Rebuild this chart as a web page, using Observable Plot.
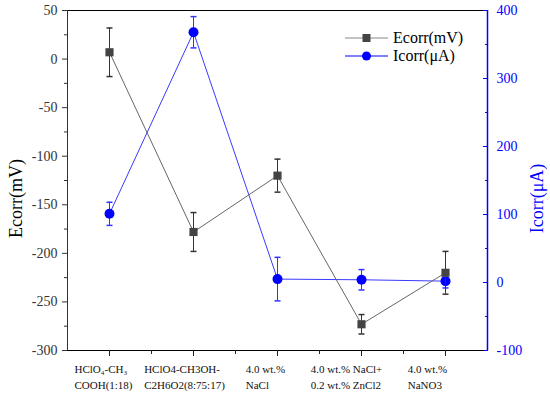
<!DOCTYPE html>
<html><head><meta charset="utf-8">
<script src="https://cdn.jsdelivr.net/npm/d3@7"></script>
<script src="https://cdn.jsdelivr.net/npm/@observablehq/plot@0.6"></script>
<style>
body{margin:0;background:#fff;}
#wrap{position:relative;width:550px;height:395px;background:#fff;}
#wrap svg text{font-family:"Liberation Serif",serif !important;}
.leg{position:absolute;left:345px;display:flex;align-items:center;font:16px "Liberation Serif",serif;color:#000;height:18px;}
.leg svg{margin-right:4px;}
</style></head><body><div id="wrap"></div>
<script>
const categories = ["HClO₄-CH₃\nCOOH(1:18)", "HClO4-CH3OH-\nC2H6O2(8:75:17)", "4.0 wt.%\nNaCl", "4.0 wt.% NaCl+\n0.2 wt.% ZnCl2", "4.0 wt.%\nNaNO3"];
const ecorr = [7, -178, -120, -273, -220];
const ecorrErr = [25, 20, 17, 10, 22];
const icorr = [101, 368, 5, 4, 2];
const icorrErr = [17, 23, 32, 15, 10];
const ecorrTicks = [-300, -250, -200, -150, -100, -50, 0, 50];
const icorrTicks = [-100, 0, 100, 200, 300, 400];
const seriesNames = ["Ecorr(mV)", "Icorr(μA)"];

const eDomain = [-300, 50], iDomain = [-100, 400];
const toE = v => eDomain[0] + (v - iDomain[0]) * (eDomain[1] - eDomain[0]) / (iDomain[1] - iDomain[0]);
const fromE = e => iDomain[0] + (e - eDomain[0]) * (iDomain[1] - iDomain[0]) / (eDomain[1] - eDomain[0]);
const idx = d3.range(categories.length);
const X = i => i + 1;
const cap = {draw(ctx, size) { const r = Math.sqrt(size / Math.PI); ctx.moveTo(-r, 0); ctx.lineTo(r, 0); }};

const cvs = document.createElement("canvas").getContext("2d");
cvs.font = "11px 'Liberation Serif'";
const labelMarks = idx.map(i => {
  const w = d3.max(categories[i].split("\n"), s => cvs.measureText(s).width);
  return Plot.text([i], {x: X, text: d => categories[d], frameAnchor: "bottom", textAnchor: "start", lineAnchor: "top",
    dy: 11, dx: -w / 2 - 6 - 3 * i, fontSize: 11, lineHeight: 1.45, fill: "#111"});
});

const blue = "#0000ff";
const chart = Plot.plot({
  width: 550, height: 395,
  marginLeft: 67, marginRight: 63, marginTop: 10, marginBottom: 45,
  style: {fontFamily: "Liberation Serif", fontSize: "14px", background: "#fff"},
  x: {domain: [0.5, 5.5]},
  y: {domain: eDomain},
  marks: [
    Plot.ruleY([eDomain[1]], {stroke: "#000"}),
    Plot.ruleY([eDomain[0]], {stroke: "#000"}),
    Plot.ruleX([0.5], {stroke: "#333"}),
    Plot.ruleX([5.5], {stroke: blue, strokeWidth: 1.5}),
    Plot.axisY({anchor: "left", ticks: ecorrTicks, tickFormat: d => String(d), tickSize: 5, tickPadding: 5, color: "#333", fontSize: 14, label: null}),
    Plot.axisY({anchor: "left", ticks: d3.range(-275, 50, 50), tickSize: 3, tickFormat: () => "", color: "#333", label: null}),
    Plot.axisY({anchor: "right", ticks: icorrTicks.map(toE), tickFormat: e => String(Math.round(fromE(e))), tickSize: -5, tickPadding: 14, color: blue, fontSize: 14, label: null}),
    Plot.axisY({anchor: "right", ticks: d3.range(-50, 400, 100).map(toE), tickFormat: () => "", tickSize: -3, tickPadding: 6, color: blue, label: null}),
    Plot.axisX({ticks: [1, 2, 3, 4, 5], tickSize: 6, tickFormat: () => "", label: null, color: "#222"}),
    Plot.axisX({ticks: [1.5, 2.5, 3.5, 4.5], tickSize: 4, tickFormat: () => "", label: null, color: "#222"}),
    ...labelMarks,
    Plot.text([seriesNames[0]], {frameAnchor: "left", textAnchor: "middle", lineAnchor: "middle", rotate: -90, dx: -51, dy: 18, fontSize: 18, fill: "#000"}),
    Plot.text([seriesNames[1]], {frameAnchor: "right", textAnchor: "middle", lineAnchor: "middle", rotate: -90, dx: 50, dy: 18, fontSize: 18, fill: blue}),
    // Icorr
    Plot.line(idx, {x: X, y: i => toE(icorr[i]), stroke: "#3a3aff", strokeWidth: 1}),
    Plot.ruleX(idx, {x: X, y1: i => toE(icorr[i] - icorrErr[i]), y2: i => toE(icorr[i] + icorrErr[i]), stroke: "#3333ff"}),
    Plot.dot(idx, {x: X, y: i => toE(icorr[i] - icorrErr[i]), symbol: cap, r: 3, stroke: "#3333ff"}),
    Plot.dot(idx, {x: X, y: i => toE(icorr[i] + icorrErr[i]), symbol: cap, r: 3, stroke: "#3333ff"}),
    Plot.dot(idx, {x: X, y: i => toE(icorr[i]), r: 5, fill: blue, stroke: "none"}),
    // Ecorr
    Plot.line(idx, {x: X, y: i => ecorr[i], stroke: "#666", strokeWidth: 1}),
    Plot.ruleX(idx, {x: X, y1: i => ecorr[i] - ecorrErr[i], y2: i => ecorr[i] + ecorrErr[i], stroke: "#333"}),
    Plot.dot(idx, {x: X, y: i => ecorr[i] - ecorrErr[i], symbol: cap, r: 3, stroke: "#333"}),
    Plot.dot(idx, {x: X, y: i => ecorr[i] + ecorrErr[i], symbol: cap, r: 3, stroke: "#333"}),
    Plot.dot(idx, {x: X, y: i => ecorr[i], symbol: "square", r: 4.6, fill: "#444", stroke: "none"})
  ]
});
const wrap = document.getElementById("wrap");
wrap.appendChild(chart);
const legendItems = [
  {name: seriesNames[0], line: "#888", fill: "#444", shape: "square", top: 29},
  {name: seriesNames[1], line: "#0000ff", fill: "#0000ff", shape: "circle", top: 47}
];
for (const it of legendItems) {
  const d = document.createElement("div");
  d.className = "leg";
  d.style.top = it.top + "px";
  const marker = it.shape === "square"
    ? `<rect x="17.5" y="5" width="8" height="8" fill="${it.fill}"/>`
    : `<circle cx="21.5" cy="9" r="4.5" fill="${it.fill}"/>`;
  d.innerHTML = `<svg width="44" height="18"><line x1="0" x2="43" y1="9" y2="9" stroke="${it.line}" stroke-width="1.2"/>${marker}</svg><span>${it.name}</span>`;
  wrap.appendChild(d);
}
</script></body></html>
